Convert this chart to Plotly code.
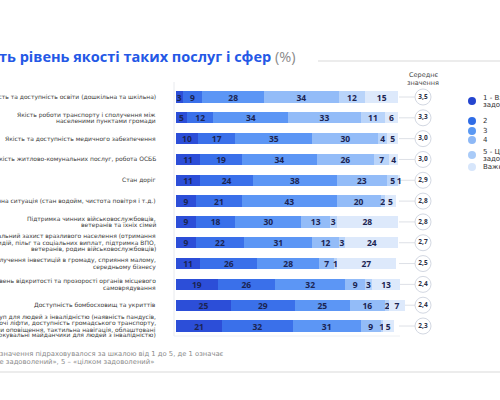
import plotly.graph_objects as go

# рядки (зверху вниз)
categories = [
    "Якість та доступність освіти (дошкільна та шкільна)",
    "Якість роботи транспорту і сполучення між<br>населеними пунктами громади",
    "Якість та доступність медичного забезпечення",
    "Якість житлово-комунальних послуг, робота ОСББ",
    "Стан доріг",
    "Екологічна ситуація (стан водойм, чистота повітря і т.д.)",
    "Підтримка чинних військовослужбовців,<br>ветеранів та їхніх сімей",
    "Соціальний захист вразливого населення (отримання<br>субсидій, пільг та соціальних виплат, підтримка ВПО,<br>ветеранів, родин військовослужбовців)",
    "Залучення інвестицій в громаду, сприяння малому,<br>середньому бізнесу",
    "Рівень відкритості та прозорості органів місцевого<br>самоврядування",
    "Доступність бомбосховищ та укриттів",
    "Доступ для людей з інвалідністю (наявність пандусів,<br>робочі ліфти, доступність громадського транспорту,<br>системи оповіщення, тактильна навігація, облаштовані<br>паркувальні майданчики для людей з інвалідністю)",
]
answers = ["1 - Взагалі не<br>задоволений", "2", "3", "4", "5 - Цілком<br>задоволений", "Важко відповісти"]

v1 = [3, 5, 10, 11, 11, 9, 9, 9, 11, 19, 25, 21]
v2 = [9, 12, 17, 19, 24, 21, 18, 22, 26, 26, 29, 32]
v3 = [28, 34, 35, 34, 38, 43, 30, 31, 28, 32, 25, 31]
v4 = [34, 33, 30, 26, 23, 20, 13, 12, 7, 9, 16, 9]
v5 = [12, 11, 4, 7, 5, 2, 3, 3, 1, 3, 2, 1]
v_dk = [15, 6, 5, 4, 1, 5, 28, 24, 27, 13, 7, 5]
means = [3.5, 3.3, 3.0, 3.0, 2.9, 2.8, 2.8, 2.7, 2.5, 2.4, 2.4, 2.3]

colors = ["#2c4ed8", "#3a70ea", "#5c96f5", "#93bcf8", "#b9d4fa", "#dde9fb"]
dot_colors = ["#2445cf", "#2f6ce6", "#5a98f3", "#8db8f6", "#a9cbf8", "#d7e6fb"]
FONT = "Open Sans"
WIDE = "DejaVu Sans"
NAVY = "#1b2452"

# піксельна прив'язка (500x400)
X0, SX = 176, 2.2
Y0, SY = 97, 20.82
def px_x(p): return (p - X0) / SX
def px_y(p): return (p - Y0) / SY

rows = list(range(len(categories)))
fig = go.Figure()

for vals, col in zip([v1, v2, v3, v4, v5, v_dk], colors):
    fig.add_trace(go.Bar(
        y=rows, x=vals, orientation="h", width=0.54,
        marker=dict(color=col, line=dict(width=0)),
        text=[str(v) for v in vals], textposition="inside", textangle=0,
        insidetextanchor="middle", constraintext="none",
        textfont=dict(family=FONT, size=8.5, color=NAVY, weight="bold"),
        hoverinfo="skip", showlegend=False,
    ))

# лінії до середніх
for r in rows:
    fig.add_shape(type="line", xref="x", yref="y", x0=px_x(399), x1=px_x(416),
                  y0=r, y1=r, line=dict(color="#dde0e6", width=1), layer="below")

# кружки середніх
fig.add_trace(go.Scatter(
    x=[px_x(423)] * len(rows), y=rows, mode="markers+text",
    marker=dict(size=16, color="white", line=dict(color="#d3d8e2", width=1)),
    text=[f"{m:.1f}".replace(".", ",") for m in means],
    textposition="middle center",
    textfont=dict(family=FONT, size=6.5, color="#2a2f45", weight="bold"),
    hoverinfo="skip", showlegend=False, cliponaxis=False,
))


def text_lines(x, y, label, anchor, size, color, gap):
    # кожен рядок окремо, щоб інтервал був щільний, як на слайді
    parts = label.split("<br>")
    n = len(parts)
    for k, part in enumerate(parts):
        fig.add_annotation(x=x, y=y + (k - (n - 1) / 2) * gap / SY, xref="x", yref="y",
                           text=part, xanchor=anchor, yanchor="middle", showarrow=False,
                           font=dict(family=WIDE, size=size, color=color))


# підписи рядків
for r, c in zip(rows, categories):
    text_lines(px_x(158), r, c, "right", 6, "#3a3a3a", 6.3)

# легенда вручну
leg_y = [101, 121, 131, 140, 155, 167]
fig.add_trace(go.Scatter(
    x=[px_x(472)] * 6, y=[px_y(p) for p in leg_y], mode="markers",
    marker=dict(size=8, color=dot_colors), hoverinfo="skip", showlegend=False, cliponaxis=False,
))
for p, a in zip(leg_y, answers):
    text_lines(px_x(481), px_y(p), a, "left", 7, "#333", 7)

# заголовок
fig.add_annotation(x=297 / 500, y=1 - 57 / 400, xref="paper", yref="paper",
                   text="<b>Оцініть рівень якості таких послуг і сфер</b> <span style='color:#8a8a8a'>(%)</span>",
                   xanchor="right", yanchor="middle", showarrow=False,
                   font=dict(family=FONT, size=14.5, color="#2458e6"))
text_lines(px_x(423), px_y(79), "Середнє<br>значення", "center", 6.5, "#444", 8)

# примітка
fig.add_annotation(x=226 / 500, y=1 - 354 / 400, xref="paper", yref="paper",
                   text="*Середнє значення підраховувалося за шкалою від 1 до 5, де 1 означає",
                   xanchor="right", yanchor="middle", showarrow=False,
                   font=dict(family=WIDE, size=6.8, color="#8a8a8a"))
fig.add_annotation(x=156 / 500, y=1 - 362 / 400, xref="paper", yref="paper",
                   text="«взагалі не задоволений», 5 – «цілком задоволений»",
                   xanchor="right", yanchor="middle", showarrow=False,
                   font=dict(family=WIDE, size=6.8, color="#8a8a8a"))

# рамки й лінії
fig.add_shape(type="line", xref="paper", yref="paper", x0=318 / 500, x1=1,
              y0=1 - 61 / 400, y1=1 - 61 / 400, line=dict(color="#e6e6e6", width=1.5))
fig.add_shape(type="line", xref="paper", yref="paper", x0=0, x1=1,
              y0=1 - 372 / 400, y1=1 - 372 / 400, line=dict(color="#ececec", width=2))
fig.add_shape(type="line", xref="paper", yref="paper", x0=174 / 500, x1=174 / 500,
              y0=1 - 82 / 400, y1=1 - 336 / 400, line=dict(color="#e8eaee", width=1))
fig.add_shape(type="line", xref="paper", yref="paper", x0=174 / 500, x1=400 / 500,
              y0=1 - 336 / 400, y1=1 - 336 / 400, line=dict(color="#eef0f3", width=1))

fig.update_layout(
    barmode="stack", width=500, height=400,
    margin=dict(l=0, r=0, t=0, b=0),
    paper_bgcolor="white", plot_bgcolor="white",
    xaxis=dict(range=[px_x(0), px_x(500)], visible=False, fixedrange=True),
    yaxis=dict(range=[px_y(400), px_y(0)], visible=False, fixedrange=True),
    uniformtext=dict(minsize=8, mode="show"),
    font=dict(family=FONT),
)

# прибрати відступ сторінки, щоб фігура стала у куток вікна
fig.write_html("out.html", config={"displayModeBar": False},
               post_script="document.body.style.margin='0';")
